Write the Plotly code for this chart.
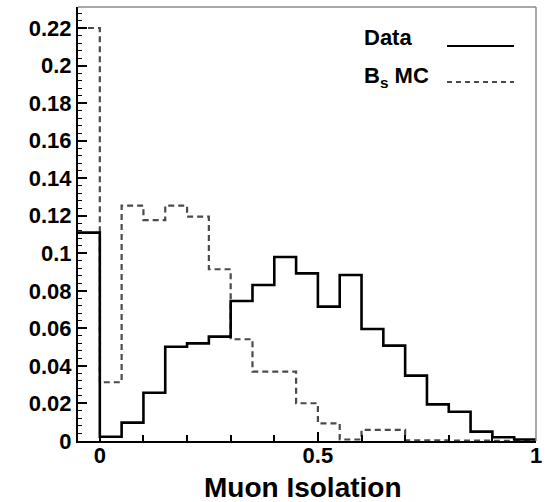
import plotly.graph_objects as go

# ---- data ----
bin_edges = [-0.05, 0.0, 0.05, 0.10, 0.15, 0.20, 0.25, 0.30, 0.35, 0.40, 0.45,
             0.50, 0.55, 0.60, 0.65, 0.70, 0.75, 0.80, 0.85, 0.90, 0.95, 1.00]
data_vals = [0.111, 0.0023, 0.0098, 0.0257, 0.0502, 0.0520, 0.0556, 0.0746, 0.0831,
             0.0980, 0.0893, 0.0716, 0.0884, 0.0597, 0.0508, 0.0348, 0.0195, 0.0156,
             0.0050, 0.0020, 0.0008]
mc_vals = [0.220, 0.0313, 0.1254, 0.1177, 0.1254, 0.1195, 0.0915, 0.0542, 0.0370,
           0.0370, 0.0201, 0.0094, 0.0008, 0.0059, 0.0059, 0.0003, 0.0003, 0.0002,
           0.0002, 0.0001, 0.0001]
y_ticks = [0, 0.02, 0.04, 0.06, 0.08, 0.1, 0.12, 0.14, 0.16, 0.18, 0.2, 0.22]
y_tick_labels = ["0", "0.02", "0.04", "0.06", "0.08", "0.1", "0.12", "0.14",
                 "0.16", "0.18", "0.2", "0.22"]
x_ticks = [0, 0.5, 1]
x_tick_labels = ["0", "0.5", "1"]
x_title = "Muon Isolation"
legend_labels = ["Data", "B<sub>s</sub> MC"]

FONT = "Liberation Sans, Arial, sans-serif"

fig = go.Figure()
fig.add_trace(go.Scatter(
    x=bin_edges, y=mc_vals + [mc_vals[-1]], mode="lines",
    line=dict(shape="hv", color="#4a4a4a", width=2.2, dash="6px,4px"),
    showlegend=False, hoverinfo="skip"))
fig.add_trace(go.Scatter(
    x=bin_edges, y=data_vals + [data_vals[-1]], mode="lines",
    line=dict(shape="hv", color="black", width=2.6),
    showlegend=False, hoverinfo="skip"))

L, R, T, B = 78, 13, 7, 61
W, H = 549, 502
pw = W - L - R
ph = H - T - B

def px(xp):
    return (xp - L) / pw

def py(yp):
    return (H - B - yp) / ph

fig.update_layout(
    width=W, height=H,
    margin=dict(l=L, r=R, t=T, b=B, pad=0),
    paper_bgcolor="white", plot_bgcolor="white",
    font=dict(family=FONT, color="black"),
    xaxis=dict(
        range=[-0.05, 1.0], showgrid=False, zeroline=False,
        showline=True, linecolor="black", linewidth=2,
        ticks="inside", ticklen=9, tickwidth=1.5, tickcolor="black",
        tickvals=x_ticks, ticktext=x_tick_labels,
        ticklabelstandoff=-6,
        tickfont=dict(family=FONT, size=22, color="black", weight="bold"),
        minor=dict(ticks="inside", ticklen=6, tickwidth=1.5, tickcolor="black",
                   dtick=0.1, tick0=0, showgrid=False),
    ),
    yaxis=dict(
        range=[0, 0.2312], showgrid=False, zeroline=False,
        showline=True, linecolor="black", linewidth=2,
        ticks="inside", ticklen=9, tickwidth=1.5, tickcolor="black",
        tickvals=y_ticks, ticktext=y_tick_labels,
        tickfont=dict(family=FONT, size=22, color="black", weight="bold"),
        minor=dict(ticks="inside", ticklen=4, tickwidth=1.2, tickcolor="black",
                   dtick=0.004, tick0=0, showgrid=False),
    ),
    showlegend=False,
)

# frame (top & right, grey)
fig.add_shape(type="line", xref="paper", yref="paper", x0=0, x1=1, y0=1, y1=1,
              line=dict(color="#8a8a8a", width=1.5))
fig.add_shape(type="line", xref="paper", yref="paper", x0=1, x1=1, y0=0, y1=1,
              line=dict(color="#8a8a8a", width=1.5))

# axis title
fig.add_annotation(text=f"<b>{x_title}</b>", xref="paper", yref="paper",
                   x=px(302.5), y=py(487), xanchor="center", yanchor="middle",
                   showarrow=False, font=dict(family=FONT, size=28, color="black"))

# legend
fig.add_annotation(text=f"<b>{legend_labels[0]}</b>", xref="paper", yref="paper",
                   x=px(362), y=py(37), xanchor="left", yanchor="middle",
                   showarrow=False, font=dict(family=FONT, size=22, color="black"))
fig.add_annotation(text=f"<b>{legend_labels[1]}</b>", xref="paper", yref="paper",
                   x=px(362), y=py(77), xanchor="left", yanchor="middle",
                   showarrow=False, font=dict(family=FONT, size=22, color="black"))
fig.add_shape(type="line", xref="paper", yref="paper",
              x0=px(447), x1=px(514), y0=py(46), y1=py(46),
              line=dict(color="black", width=2.2))
fig.add_shape(type="line", xref="paper", yref="paper",
              x0=px(447), x1=px(514), y0=py(82), y1=py(82),
              line=dict(color="#4a4a4a", width=2, dash="5px,4px"))

fig.write_html("out.html")
